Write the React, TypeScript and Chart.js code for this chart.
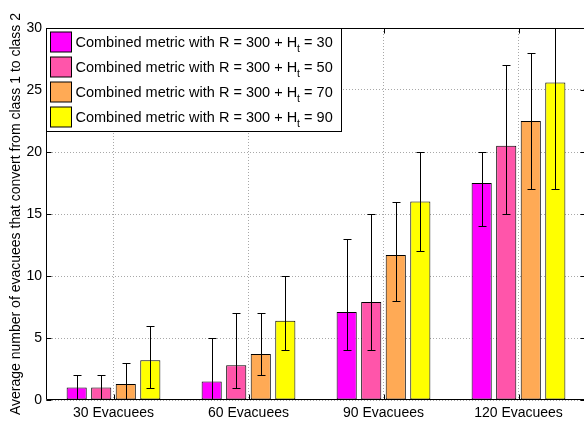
import React, { useEffect, useRef } from 'react';
import { Chart, registerables } from 'chart.js';

Chart.register(...registerables);

// ---- data ----
const CATEGORIES = ['30 Evacuees', '60 Evacuees', '90 Evacuees', '120 Evacuees'];
const HT_VALUES = [30, 50, 70, 90];
const SERIES_COLORS = ['#FF00FF', '#FF55AA', '#FFAA55', '#FFFF00'];

const MEAN_HT30 = [1.0, 1.5, 7.1, 17.5];
const MEAN_HT50 = [1.0, 2.8, 7.9, 20.5];
const MEAN_HT70 = [1.3, 3.7, 11.7, 22.5];
const MEAN_HT90 = [3.2, 6.4, 16.0, 25.6];

const LOW_HT30 = [0, 0, 4, 14];
const LOW_HT50 = [0, 1, 4, 15];
const LOW_HT70 = [0, 2, 8, 17];
const LOW_HT90 = [1, 4, 12, 17];

const HIGH_HT30 = [2, 5, 13, 20];
const HIGH_HT50 = [2, 7, 15, 27];
const HIGH_HT70 = [3, 7, 16, 28];
const HIGH_HT90 = [6, 10, 20, 34];

const Y_MIN = 0;
const Y_MAX = 30;
const Y_STEP = 5;
const Y_TITLE = 'Average number of evacuees that convert from class 1 to class 2';
const LEGEND_PREFIX = 'Combined metric with R = 300 + H';
const LEGEND_SUB = 't';

const FONT = "'Liberation Sans', Arial, Helvetica, sans-serif";

const MEANS = [MEAN_HT30, MEAN_HT50, MEAN_HT70, MEAN_HT90];
const LOWS = [LOW_HT30, LOW_HT50, LOW_HT70, LOW_HT90];
const HIGHS = [HIGH_HT30, HIGH_HT50, HIGH_HT70, HIGH_HT90];

const matlabPlugin = {
  id: 'matlabLook',
  afterDatasetsDraw(chart: any) {
    const ctx = chart.ctx;
    const ys = chart.scales.y;
    const a = chart.chartArea;
    ctx.save();
    ctx.beginPath();
    ctx.rect(a.left, a.top, a.right - a.left, a.bottom - a.top);
    ctx.clip();
    ctx.strokeStyle = '#000';
    ctx.lineWidth = 1;
    chart.data.datasets.forEach((ds: any, di: number) => {
      const meta = chart.getDatasetMeta(di);
      meta.data.forEach((bar: any, i: number) => {
        const x = Math.round(bar.x) + 0.5;
        const yl = Math.round(ys.getPixelForValue(ds.errLow[i])) + 0.5;
        const yh = Math.round(ys.getPixelForValue(ds.errHigh[i])) + 0.5;
        ctx.beginPath();
        ctx.moveTo(x, yl);
        ctx.lineTo(x, yh);
        ctx.moveTo(x - 4, yl);
        ctx.lineTo(x + 4, yl);
        ctx.moveTo(x - 4, yh);
        ctx.lineTo(x + 4, yh);
        ctx.stroke();
      });
    });
    ctx.restore();
  },
  afterDraw(chart: any) {
    const ctx = chart.ctx;
    const a = chart.chartArea;
    const xs = chart.scales.x;
    const ys = chart.scales.y;
    const L = Math.round(a.left) + 0.5;
    const R = Math.round(a.right) - 0.5;
    const T = Math.round(a.top) + 0.5;
    const B = Math.round(a.bottom) - 0.5;
    ctx.save();
    ctx.strokeStyle = '#000';
    ctx.lineWidth = 1;
    // axes box
    ctx.beginPath();
    ctx.rect(L, T, R - L, B - T);
    ctx.stroke();
    // inward ticks
    ctx.beginPath();
    ys.ticks.forEach((t: any, i: number) => {
      const y = Math.round(ys.getPixelForTick(i)) + 0.5;
      ctx.moveTo(L, y);
      ctx.lineTo(L + 5, y);
      ctx.moveTo(R, y);
      ctx.lineTo(R - 5, y);
    });
    xs.ticks.forEach((t: any, i: number) => {
      const x = Math.round(xs.getPixelForTick(i)) + 0.5;
      ctx.moveTo(x, B);
      ctx.lineTo(x, B - 5);
      ctx.moveTo(x, T);
      ctx.lineTo(x, T + 5);
    });
    ctx.stroke();

    // legend
    const mainFont = `14.5px ${FONT}`;
    const subFont = `10.5px ${FONT}`;
    const rows = chart.data.datasets.map((ds: any) => {
      ctx.font = mainFont;
      const suffix = ` = ${ds.ht}`;
      const w1 = ctx.measureText(LEGEND_PREFIX).width;
      const w3 = ctx.measureText(suffix).width;
      ctx.font = subFont;
      const w2 = ctx.measureText(LEGEND_SUB).width;
      return { suffix, w1, w2, w3, color: ds.backgroundColor };
    });
    const lx = L;
    const ly = T;
    const textX = lx + 29;
    const maxW = Math.max(...rows.map((r: any) => r.w1 + r.w2 + r.w3));
    const boxW = Math.round(textX + maxW + 9 - lx);
    const boxH = 103;
    ctx.fillStyle = '#fff';
    ctx.fillRect(lx, ly, boxW, boxH);
    ctx.strokeRect(lx, ly, boxW, boxH);
    rows.forEach((r: any, i: number) => {
      const cy = ly + 13.5 + 25 * i;
      ctx.fillStyle = r.color;
      ctx.fillRect(lx + 4, cy - 10, 21, 20);
      ctx.strokeStyle = '#000';
      ctx.strokeRect(lx + 4, cy - 10, 21, 20);
      ctx.fillStyle = '#000';
      ctx.textBaseline = 'alphabetic';
      ctx.textAlign = 'left';
      const base = cy + 5;
      ctx.font = mainFont;
      ctx.fillText(LEGEND_PREFIX, textX, base);
      ctx.font = subFont;
      ctx.fillText(LEGEND_SUB, textX + r.w1, base + 5);
      ctx.font = mainFont;
      ctx.fillText(r.suffix, textX + r.w1 + r.w2, base);
    });
    ctx.restore();
  },
};

export default function App() {
  const canvasRef = useRef<HTMLCanvasElement | null>(null);

  useEffect(() => {
    const canvas = canvasRef.current;
    if (!canvas) return;
    const datasets = HT_VALUES.map((ht, i) => ({
      label: `${LEGEND_PREFIX}${LEGEND_SUB} = ${ht}`,
      ht,
      data: MEANS[i],
      errLow: LOWS[i],
      errHigh: HIGHS[i],
      backgroundColor: SERIES_COLORS[i],
      borderColor: '#000',
      borderWidth: 1,
      borderSkipped: false,
      categoryPercentage: 4 / 5.5,
      barPercentage: 0.82,
    }));
    const chart = new Chart(canvas, {
      type: 'bar',
      data: { labels: CATEGORIES, datasets: datasets as any },
      options: {
        responsive: false,
        animation: false,
        devicePixelRatio: 1,
        layout: { padding: { top: 28, right: 14, left: 0, bottom: 0 } },
        plugins: { legend: { display: false }, tooltip: { enabled: false } },
        scales: {
          x: {
            type: 'category',
            offset: true,
            grid: { offset: false, color: '#a8a8a8', drawTicks: false, lineWidth: 1 },
            border: { display: false, dash: [1, 2] },
            ticks: {
              font: { family: FONT, size: 14 },
              color: '#000',
              padding: 5,
              maxRotation: 0,
              autoSkip: false,
            },
            afterFit: (s: any) => {
              s.height = 24;
            },
          },
          y: {
            min: Y_MIN,
            max: Y_MAX,
            ticks: {
              stepSize: Y_STEP,
              font: { family: FONT, size: 14 },
              color: '#000',
              padding: 4,
            },
            grid: { color: '#a8a8a8', drawTicks: false, lineWidth: 1 },
            border: { display: false, dash: [1, 2] },
            title: {
              display: true,
              text: Y_TITLE,
              font: { family: FONT, size: 14 },
              color: '#000',
              padding: { top: 8, bottom: 0 },
            },
            afterFit: (s: any) => {
              s.width = 46;
            },
          },
        },
      } as any,
      plugins: [matlabPlugin],
    });
    return () => chart.destroy();
  }, []);

  return (
    <div
      style={{
        position: 'absolute',
        left: 0,
        top: 0,
        width: 584,
        height: 424,
        overflow: 'hidden',
        background: '#fff',
      }}
    >
      <canvas ref={canvasRef} width={600} height={424} style={{ width: 600, height: 424, display: 'block' }} />
    </div>
  );
}
